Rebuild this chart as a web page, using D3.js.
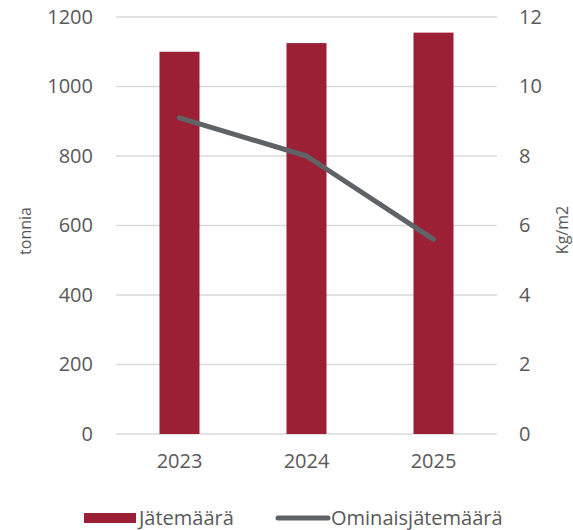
<!DOCTYPE html>
<html>
<head>
<meta charset="utf-8">
<script src="https://cdn.jsdelivr.net/npm/d3@7"></script>
<style>
  body { margin: 0; background: #fff; }
  text { font-family: "Open Sans", sans-serif; fill: #595959; }
</style>
</head>
<body>
<script>
// data
const years = ["2023", "2024", "2025"];
const jatemaara = [1100, 1125, 1155];        // tonnia
const ominaisjatemaara = [9.1, 8.0, 5.6];    // Kg/m2
const leftTicks = [0, 200, 400, 600, 800, 1000, 1200];
const rightTicks = [0, 2, 4, 6, 8, 10, 12];

const w = 573, h = 530;
const plotL = 116, plotR = 497, plotT = 17, plotB = 434;

const svg = d3.select("body").append("svg")
  .attr("width", w)
  .attr("height", h);

const x = d3.scaleBand().domain(years).range([plotL, plotR]);
const yL = d3.scaleLinear().domain([0, 1200]).range([plotB, plotT]);
const yR = d3.scaleLinear().domain([0, 12]).range([plotB, plotT]);

// gridlines
svg.selectAll("line.grid")
  .data(leftTicks)
  .enter().append("line")
  .attr("x1", plotL).attr("x2", plotR)
  .attr("y1", d => yL(d)).attr("y2", d => yL(d))
  .attr("stroke", "#d9d9d9")
  .attr("stroke-width", 1.5);

// left axis
svg.append("g")
  .attr("transform", `translate(${plotL},0)`)
  .call(d3.axisLeft(yL).tickValues(leftTicks).tickFormat(d3.format("d")).tickSize(0).tickPadding(23))
  .call(g => g.select(".domain").remove())
  .selectAll("text")
  .style("font-size", "20px")
  .attr("fill", "#595959");

// right axis
svg.append("g")
  .attr("transform", `translate(${plotR},0)`)
  .call(d3.axisRight(yR).tickValues(rightTicks).tickFormat(d3.format("d")).tickSize(0).tickPadding(22))
  .call(g => g.select(".domain").remove())
  .selectAll("text")
  .style("font-size", "20px")
  .attr("fill", "#595959");

// x axis
svg.append("g")
  .attr("transform", `translate(0,${plotB})`)
  .call(d3.axisBottom(x).tickSize(0).tickPadding(20))
  .call(g => g.select(".domain").remove())
  .selectAll("text")
  .style("font-size", "20px")
  .attr("fill", "#595959");

// bars
const bw = x.bandwidth() * 0.315;
svg.selectAll("rect.bar")
  .data(jatemaara)
  .enter().append("rect")
  .attr("class", "bar")
  .attr("x", (d, i) => x(years[i]) + x.bandwidth() / 2 - bw / 2)
  .attr("y", d => yL(d))
  .attr("width", bw)
  .attr("height", d => plotB - yL(d))
  .attr("fill", "#9b1f35");

// line
const line = d3.line()
  .x((d, i) => x(years[i]) + x.bandwidth() / 2)
  .y(d => yR(d));

svg.append("path")
  .datum(ominaisjatemaara)
  .attr("d", line)
  .attr("fill", "none")
  .attr("stroke", "#5f6368")
  .attr("stroke-width", 5)
  .attr("stroke-linecap", "round")
  .attr("stroke-linejoin", "round");

// axis titles
svg.append("text")
  .attr("transform", "translate(25,231) rotate(-90)")
  .attr("text-anchor", "middle")
  .attr("dominant-baseline", "central")
  .style("font-size", "16px")
  .text("tonnia");

svg.append("text")
  .attr("transform", "translate(562,230) rotate(-90)")
  .attr("text-anchor", "middle")
  .attr("dominant-baseline", "central")
  .style("font-size", "16px")
  .text("Kg/m2");

// legend
const ly = 518;
svg.append("rect")
  .attr("x", 84).attr("y", ly - 5)
  .attr("width", 52).attr("height", 10)
  .attr("fill", "#9b1f35");
svg.append("text")
  .attr("x", 139).attr("y", ly + 7)
  .style("font-size", "20px")
  .text("Jätemäärä");

svg.append("line")
  .attr("x1", 278).attr("x2", 328)
  .attr("y1", ly).attr("y2", ly)
  .attr("stroke", "#5f6368")
  .attr("stroke-width", 5)
  .attr("stroke-linecap", "round");
svg.append("text")
  .attr("x", 331).attr("y", ly + 7)
  .style("font-size", "20px")
  .text("Ominaisjätemäärä");
</script>
</body>
</html>
